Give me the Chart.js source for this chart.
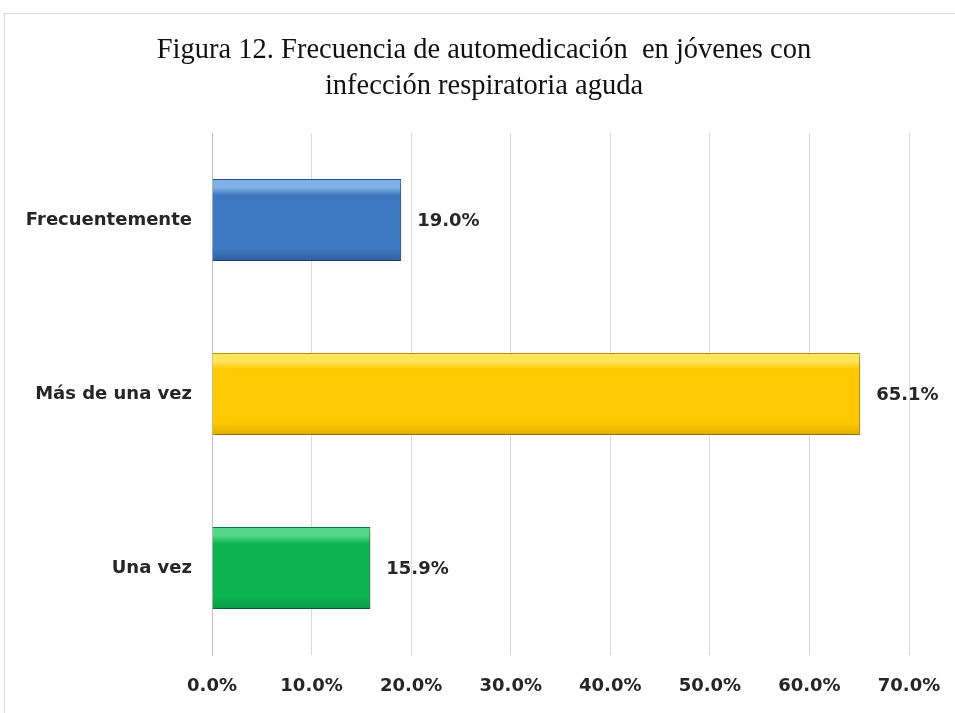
<!DOCTYPE html>
<html>
<head>
<meta charset="utf-8">
<script src="https://cdn.jsdelivr.net/npm/chart.js@4"></script>
<style>
    html, body { margin: 0; padding: 0; background: #fff; }
    #wrap { position: relative; width: 955px; height: 713px; overflow: hidden; }
    #frame { position: absolute; left: 4px; top: 13px; width: 1000px; height: 800px; border-left: 1px solid #d9d9d9; border-top: 1px solid #d9d9d9; }
    canvas { position: absolute; left: 0; top: 0; }
</style>
</head>
<body>
<div id="wrap">
    <div id="frame"></div>
    <canvas id="chart" width="955" height="713"></canvas>
</div>
<script>
// Chart data
const categories = ['Frecuentemente', 'Más de una vez', 'Una vez'];
const values = [19.0, 65.1, 15.9];
const xTicks = [0, 10, 20, 30, 40, 50, 60, 70];
const titleLines = ['Figura 12. Frecuencia de automedicación  en jóvenes con', 'infección respiratoria aguda'];

// Bar colours: [top highlight, main, bottom, border]
const barColors = [
    ['#7fb0e8', '#3f78c2', '#2f5f9f', '#2a568f'],
    ['#ffe55c', '#ffc800', '#e0ad00', '#c49a00'],
    ['#55d888', '#0db552', '#0a9a45', '#087d38']
];

const labelFont = { family: 'DejaVu Sans', size: 18, weight: 'bold' };
const textColor = '#262626';

function barGradient(context) {
    const chart = context.chart;
    const c = barColors[context.dataIndex];
    const yScale = chart.scales.y;
    if (!chart.chartArea || !yScale) return c[1];
    const cy = yScale.getPixelForValue(context.dataIndex);
    const h = (chart.chartArea.bottom - chart.chartArea.top) / categories.length * 0.47;
    const g = chart.ctx.createLinearGradient(0, cy - h / 2, 0, cy + h / 2);
    g.addColorStop(0, c[0]);
    g.addColorStop(0.1, c[0]);
    g.addColorStop(0.2, c[1]);
    g.addColorStop(0.85, c[1]);
    g.addColorStop(1, c[2]);
    return g;
}

// Two-line serif title, centred a little right of the canvas middle
const titlePlugin = {
    id: 'serifTitle',
    afterDraw(chart) {
        const ctx = chart.ctx;
        ctx.save();
        ctx.font = '28.5px "Liberation Serif"';
        ctx.fillStyle = '#111';
        ctx.textAlign = 'center';
        ctx.textBaseline = 'middle';
        titleLines.forEach((line, i) => {
            ctx.fillText(line, 484, 51 + i * 36);
        });
        ctx.restore();
    }
};

// Soft shadow under the bars
const shadowPlugin = {
    id: 'barShadow',
    beforeDatasetsDraw(chart) {
        const ctx = chart.ctx;
        ctx.save();
        ctx.shadowColor = 'rgba(0,0,0,0.35)';
        ctx.shadowBlur = 6;
        ctx.shadowOffsetX = 2;
        ctx.shadowOffsetY = 3;
    },
    afterDatasetsDraw(chart) {
        chart.ctx.restore();
    }
};

// Value labels at the end of each bar
const valueLabels = {
    id: 'valueLabels',
    afterDraw(chart) {
        const ctx = chart.ctx;
        const meta = chart.getDatasetMeta(0);
        ctx.save();
        ctx.font = `${labelFont.weight} ${labelFont.size}px "${labelFont.family}"`;
        ctx.fillStyle = textColor;
        ctx.textAlign = 'left';
        ctx.textBaseline = 'middle';
        meta.data.forEach((bar, i) => {
            ctx.fillText(values[i].toFixed(1) + '%', bar.x + 16, bar.y + 1);
        });
        ctx.restore();
    }
};

const ctx = document.getElementById('chart').getContext('2d');
new Chart(ctx, {
    type: 'bar',
    data: {
        labels: categories,
        datasets: [{
            data: values,
            backgroundColor: barGradient,
            borderColor: barColors.map(c => c[3]),
            borderWidth: 1,
            categoryPercentage: 1,
            barPercentage: 0.47
        }]
    },
    options: {
        indexAxis: 'y',
        responsive: false,
        animation: false,
        layout: {
            padding: { left: 0, right: 46, top: 133, bottom: 0 }
        },
        plugins: {
            legend: { display: false },
            tooltip: { enabled: false },
            title: { display: false }
        },
        scales: {
            x: {
                min: 0,
                max: 70,
                afterBuildTicks: scale => {
                    scale.ticks = xTicks.map(v => ({ value: v }));
                },
                afterFit: scale => {
                    scale.height = 58;
                    scale.paddingLeft = 0;
                    scale.paddingRight = 0;
                },
                grid: { color: '#d9d9d9', drawTicks: false },
                border: { display: false },
                ticks: {
                    color: textColor,
                    font: labelFont,
                    padding: 21,
                    callback: v => v.toFixed(1) + '%'
                }
            },
            y: {
                afterFit: scale => { scale.width = 212; },
                grid: { display: false },
                border: { color: '#bfbfbf', width: 1 },
                ticks: {
                    color: textColor,
                    font: labelFont,
                    padding: 12
                }
            }
        }
    },
    plugins: [titlePlugin, shadowPlugin, valueLabels]
});
</script>
</body>
</html>
